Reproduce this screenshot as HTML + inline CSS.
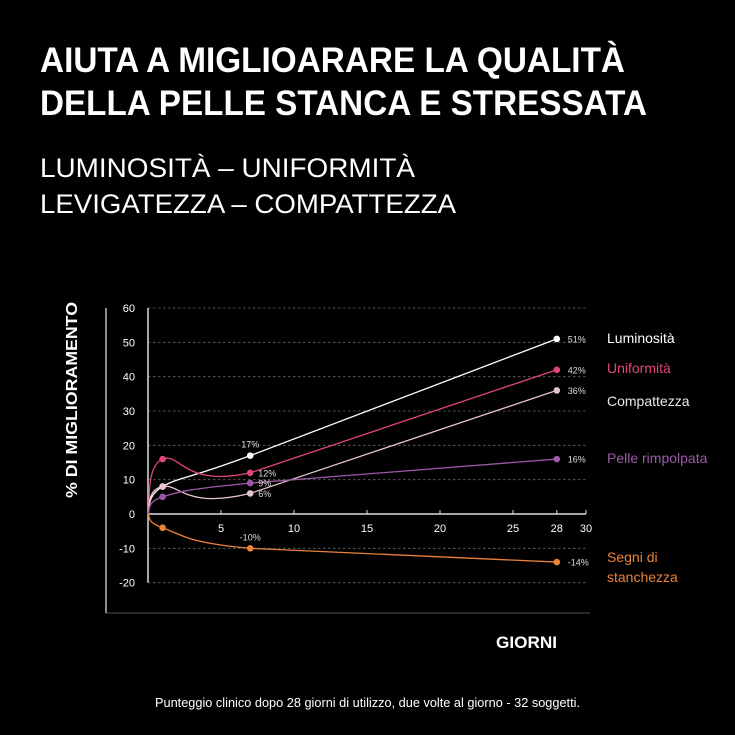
<!DOCTYPE html>
<html><head><meta charset="utf-8"><style>
html,body{margin:0;padding:0;background:#000;}
svg{display:block;font-family:"Liberation Sans",sans-serif;}
</style></head><body>
<svg id="c" width="735" height="735" viewBox="0 0 735 735">
<rect x="0" y="0" width="735" height="735" fill="#000"/>
<text x="40" y="72" font-size="35" font-weight="bold" fill="#fff" textLength="585" lengthAdjust="spacingAndGlyphs">AIUTA A MIGLIOARARE LA QUALITÀ</text>
<text x="40" y="115" font-size="35" font-weight="bold" fill="#fff" textLength="607" lengthAdjust="spacingAndGlyphs">DELLA PELLE STANCA E STRESSATA</text>
<text x="40" y="177" font-size="27" fill="#fff" textLength="375" lengthAdjust="spacingAndGlyphs">LUMINOSITÀ – UNIFORMITÀ</text>
<text x="40" y="213" font-size="27" fill="#fff" textLength="416" lengthAdjust="spacingAndGlyphs">LEVIGATEZZA – COMPATTEZZA</text>
<line x1="106" y1="308" x2="106" y2="613" stroke="#bbb" stroke-width="1.5"/>
<line x1="106" y1="613" x2="590" y2="613" stroke="#555" stroke-width="1"/>
<text transform="translate(77,400) rotate(-90)" text-anchor="middle" font-size="16" font-weight="bold" fill="#fff" textLength="196" lengthAdjust="spacingAndGlyphs">% DI MIGLIORAMENTO</text>
<text x="496" y="648" font-size="17" font-weight="bold" fill="#fff" textLength="61" lengthAdjust="spacingAndGlyphs">GIORNI</text>
<text x="155" y="707" font-size="12.5" fill="#fff" textLength="425" lengthAdjust="spacingAndGlyphs">Punteggio clinico dopo 28 giorni di utilizzo, due volte al giorno - 32 soggetti.</text>
<g id="grid"></g><g id="axes"></g><g id="series"></g><g id="legend"></g>
</svg>
<script>
const yTicks=[60,50,40,30,20,10,0,-10,-20];
const xTicks=[5,10,15,20,25,28,30];
const days=[0,1,7,28];
const seriesNames=["Luminosità","Uniformità","Compattezza","Pelle rimpolpata","Segni di stanchezza"];
const lumVals=[0,8,17,51];
const unifVals=[0,16,12,42];
const compVals=[0,8,6,36];
const pelleVals=[0,5,9,16];
const segniVals=[0,-4,-10,-14];
const colors=["#ffffff","#e0457b","#e8c4cc","#9b59a6","#e8823a"];
const legendColors=["#ffffff","#e0457b","#e8e8e8","#9b59a6","#e8823a"];
const allVals=[lumVals,unifVals,compVals,pelleVals,segniVals];
const NS="http://www.w3.org/2000/svg";
function X(d){return 148+d*(586-148)/30;}
function Y(v){return 514-v*(514-308)/60;}
function mk(tag,attrs,parent){const e=document.createElementNS(NS,tag);for(const k in attrs)e.setAttribute(k,attrs[k]);parent.appendChild(e);return e;}
const grid=document.getElementById('grid'),axes=document.getElementById('axes'),ser=document.getElementById('series'),leg=document.getElementById('legend');
yTicks.forEach(t=>{
 if(t!==0){const l=mk('line',{x1:148,x2:586,y1:Y(t),y2:Y(t),stroke:'#666','stroke-width':0.8,'stroke-dasharray':'2.5,2.5'},grid);
 
 }
 const tx=mk('text',{x:135,y:Y(t)+4,'text-anchor':'end','font-size':11,fill:'#fff'},axes);tx.textContent=t;
 
 
});
let ya=mk('line',{x1:148,x2:148,y1:Y(60),y2:Y(-20),stroke:'#ddd','stroke-width':1.5},axes);


let xa=mk('line',{x1:148,x2:X(30),y1:Y(0),y2:Y(0),stroke:'#ddd','stroke-width':1.5},axes);


xTicks.forEach(t=>{
 const l=mk('line',{x1:X(t),x2:X(t),y1:Y(0),y2:Y(0)-4,stroke:'#ddd','stroke-width':1},axes);
 
 
 const tx=mk('text',{x:X(t),y:Y(0)+18,'text-anchor':'middle','font-size':11,fill:'#fff'},axes);tx.textContent=t;
 
 
});
allVals.forEach((vals,si)=>{
 const p=days.map((d,i)=>[X(d),Y(vals[i])]);
 function cr(i){const p0=p[Math.max(i-1,0)],p1=p[i],p2=p[i+1],p3=p[Math.min(i+2,p.length-1)];
  return `C${p1[0]+(p2[0]-p0[0])/6},${p1[1]+(p2[1]-p0[1])/6} ${p2[0]-(p3[0]-p1[0])/6},${p2[1]-(p3[1]-p1[1])/6} ${p2[0]},${p2[1]}`;}
 let d=`M${p[0][0]},${p[0][1]} `+cr(0)+' '+cr(1)+` L${p[3][0]},${p[3][1]}`;
 const path=mk('path',{d:d,fill:'none',stroke:colors[si],'stroke-width':1.3},ser);
 
 
 for(let i=1;i<p.length;i++){
  const c=mk('circle',{cx:p[i][0],cy:p[i][1],r:3.3,fill:colors[si]},ser);
  
  
 }
 const v28=vals[3];
 const lab=mk('text',{x:X(28)+11,y:Y(v28)+3.5,'font-size':9,fill:'#ddd'},ser);lab.textContent=v28+'%';
 
 
 const v7=vals[2];
 let lx,ly,anchor='start';
 if(si===0||si===4){lx=X(7);ly=Y(v7)-8;anchor='middle';}else{lx=X(7)+8;ly=Y(v7)+3.5;}
 const l7=mk('text',{x:lx,y:ly,'text-anchor':anchor,'font-size':9,fill:'#ddd'},ser);l7.textContent=v7+'%';
 
 
});
const legY=[343,373,406,463,562];
seriesNames.forEach((n,i)=>{
 const t=mk('text',{x:607,y:legY[i],'font-size':14,fill:legendColors[i]},leg);
 if(i===4){t.textContent='Segni di';const t2=mk('text',{x:607,y:legY[i]+20,'font-size':14,fill:legendColors[i]},leg);t2.textContent='stanchezza';
  
  }
 else t.textContent=n;
 
 
});
</script>
</body></html>
